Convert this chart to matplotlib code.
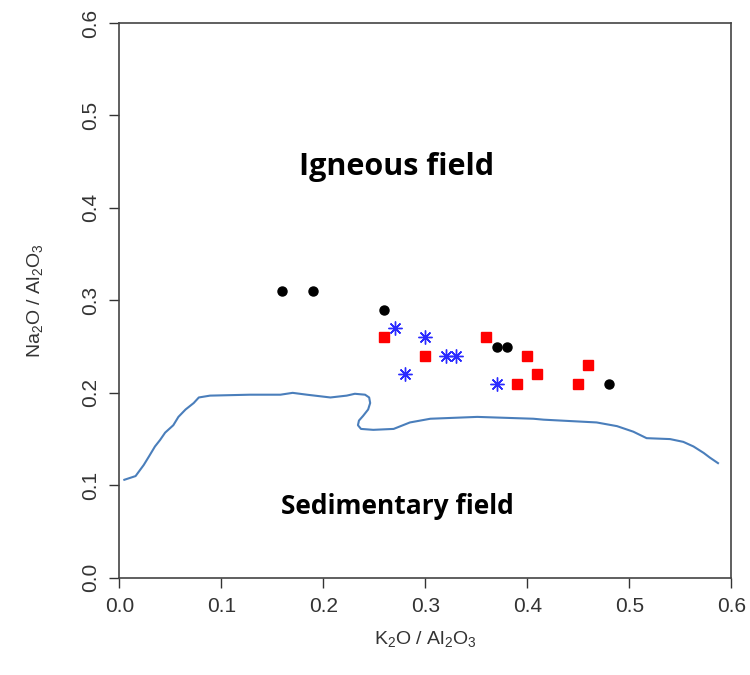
import numpy as np
import matplotlib
matplotlib.use("Agg")
import matplotlib.pyplot as plt

# sample points (K2O/Al2O3, Na2O/Al2O3)
black_x = [0.16, 0.19, 0.26, 0.37, 0.38, 0.48]
black_y = [0.31, 0.31, 0.29, 0.25, 0.25, 0.21]
red_x = [0.26, 0.30, 0.36, 0.40, 0.41, 0.39, 0.46, 0.45]
red_y = [0.26, 0.24, 0.26, 0.24, 0.22, 0.21, 0.23, 0.21]
blue_x = [0.27, 0.30, 0.28, 0.32, 0.33, 0.37]
blue_y = [0.27, 0.26, 0.22, 0.24, 0.24, 0.21]

# igneous / sedimentary boundary, traced
line_x = [0.005, 0.016, 0.024, 0.029, 0.035, 0.040, 0.045, 0.053, 0.058, 0.065,
          0.073, 0.078, 0.089, 0.128, 0.158, 0.170, 0.184, 0.207, 0.223, 0.231,
          0.241, 0.245, 0.246, 0.244, 0.239, 0.235, 0.234, 0.237, 0.249, 0.269,
          0.285, 0.305, 0.351, 0.406, 0.416, 0.468, 0.488, 0.504, 0.517, 0.540,
          0.553, 0.563, 0.573, 0.579, 0.587]
line_y = [0.106, 0.110, 0.122, 0.131, 0.142, 0.149, 0.157, 0.165, 0.174, 0.182,
          0.189, 0.195, 0.197, 0.198, 0.198, 0.200, 0.198, 0.195, 0.197, 0.199,
          0.198, 0.195, 0.189, 0.182, 0.175, 0.170, 0.165, 0.161, 0.160, 0.161,
          0.168, 0.172, 0.174, 0.172, 0.171, 0.168, 0.164, 0.158, 0.151, 0.150,
          0.147, 0.142, 0.135, 0.130, 0.124]

plt.rcParams["font.family"] = ["Liberation Sans", "DejaVu Sans"]
plt.rcParams["mathtext.default"] = "regular"

fig = plt.figure(figsize=(7.5, 6.75), dpi=100)
ax = fig.add_axes([0.159, 0.144, 0.816, 0.822])

ax.plot(line_x, line_y, color="#4a7ebb", lw=1.5)
ax.plot(black_x, black_y, "o", color="black", ms=6.5, ls="none")
ax.plot(red_x, red_y, "s", color="#ff0000", ms=6.5, ls="none")
ax.plot(blue_x, blue_y, ls="none", marker=(8, 2, 0), color="#2b2bff", ms=10, mew=1.0)

ax.text(0.272, 0.444, "Igneous field", ha="center", va="center",
        fontsize=22, fontweight="bold", family=["Open Sans", "DejaVu Sans"])
ax.text(0.2725, 0.077, "Sedimentary field", ha="center", va="center",
        fontsize=19, fontweight="bold", family=["Open Sans", "DejaVu Sans"])

ax.set_xlim(0, 0.6)
ax.set_ylim(0, 0.6)
ticks = [0.0, 0.1, 0.2, 0.3, 0.4, 0.5, 0.6]
ax.set_xticks(ticks)
ax.set_yticks(ticks)
ax.set_xticklabels([f"{t:.1f}" for t in ticks])
ax.set_yticklabels([f"{t:.1f}" for t in ticks], rotation=90, va="center")
ax.tick_params(direction="out", length=7, width=1, labelsize=15, colors="#333333", pad=7)
for s in ax.spines.values():
    s.set_color("#444444")
    s.set_linewidth(1.2)

ax.set_xlabel("K$_2$O / Al$_2$O$_3$", fontsize=14, color="#333333", labelpad=9)
ax.set_ylabel("Na$_2$O / Al$_2$O$_3$", fontsize=14, color="#333333", labelpad=26)

fig.savefig("out.png", dpi=100)
